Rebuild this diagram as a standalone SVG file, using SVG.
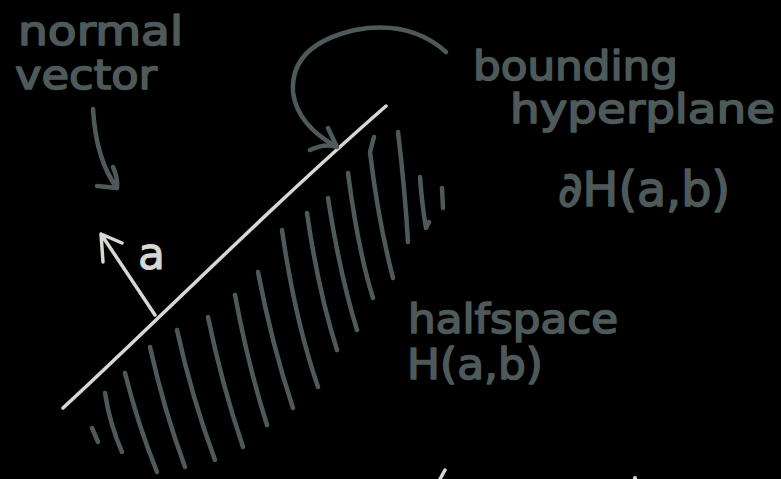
<svg xmlns="http://www.w3.org/2000/svg" width="781" height="479" viewBox="0 0 781 479">
<style>
.bg{fill:#000}
.ink{fill:none;stroke:#4e5a5a;stroke-width:4.5;stroke-linecap:round;stroke-linejoin:round}
.chalk{fill:none;stroke:#d9d7d1;stroke-width:3.5;stroke-linecap:round;stroke-linejoin:round}
.t{fill:#4e5a5a;stroke:#4e5a5a;stroke-width:1.6;stroke-linejoin:round;font-family:"DejaVu Sans","Liberation Sans",sans-serif;font-weight:normal}
.tl{fill:#d9d7d1;stroke:#d9d7d1;stroke-width:1;font-family:"DejaVu Sans","Liberation Sans",sans-serif}
</style>
<rect class="bg" x="0" y="0" width="781" height="479"/>
<g id="hyperplane">
<path class="chalk" d="M63,408 C140,338 260,216 386,106"/>
</g>
<g id="halfspace-hatching">
<path class="ink" d="M92,428 L98,442"/>
<path class="ink" d="M105,393 Q110,425 122,452"/>
<path class="ink" d="M125,373 Q138,425 157,472"/>
<path class="ink" d="M150,347 Q164,410 185,467"/>
<path class="ink" d="M177,330 Q192,398 215,460"/>
<path class="ink" d="M208,317 Q222,385 243,447"/>
<path class="ink" d="M235,295 Q248,365 267,425"/>
<path class="ink" d="M258,272 Q272,345 293,408"/>
<path class="ink" d="M282,230 Q295,320 318,387"/>
<path class="ink" d="M307,213 Q318,290 337,350"/>
<path class="ink" d="M328,198 Q340,275 357,330"/>
<path class="ink" d="M348,173 Q358,250 373,298"/>
<path class="ink" d="M374,137 L370,152 Q378,220 393,278"/>
<path class="ink" d="M398,132 Q405,190 408,242"/>
<path class="ink" d="M420,177 Q422,205 426,228 L429,222"/>
<path class="ink" d="M442,188 L443,208"/>
</g>
<g id="normal-vector">
<path class="chalk" d="M155,315 L101,234 M103,262 L101,234 L122,243"/>
<text class="tl" x="138" y="269" font-size="44" textLength="27" lengthAdjust="spacingAndGlyphs">a</text>
</g>
<g id="label-normal">
<text class="t" x="18" y="45" font-size="40" textLength="165" lengthAdjust="spacingAndGlyphs">normal</text>
<text class="t" x="15" y="89" font-size="40" textLength="142" lengthAdjust="spacingAndGlyphs">vector</text>
</g>
<g id="label-bounding">
<text class="t" x="473" y="80" font-size="40" textLength="205" lengthAdjust="spacingAndGlyphs">bounding</text>
<text class="t" x="510" y="123" font-size="41" textLength="265" lengthAdjust="spacingAndGlyphs">hyperplane</text>
<text class="t" x="558" y="206" font-size="48" textLength="172" lengthAdjust="spacingAndGlyphs">∂H(a,b)</text>
</g>
<g id="label-halfspace">
<text class="t" x="408" y="333" font-size="40" textLength="210" lengthAdjust="spacingAndGlyphs">halfspace</text>
<text class="t" x="407" y="379" font-size="42" textLength="136" lengthAdjust="spacingAndGlyphs">H(a,b)</text>
</g>
<g id="connectors">
<path class="ink" d="M93,109 Q96,160 117,188 M113,167 Q118,178 117,188 L97,186"/>
<path class="ink" d="M446,52 Q410,20 355,30 Q290,45 293,92 Q297,125 337,147 M310,150 Q325,143 337,147 L328,128"/>
</g>
<g id="fragments">
<path class="chalk" d="M445,470 L440,479"/>
<circle cx="635" cy="478" r="2" fill="#d9d7d1"/>
</g>
</svg>
